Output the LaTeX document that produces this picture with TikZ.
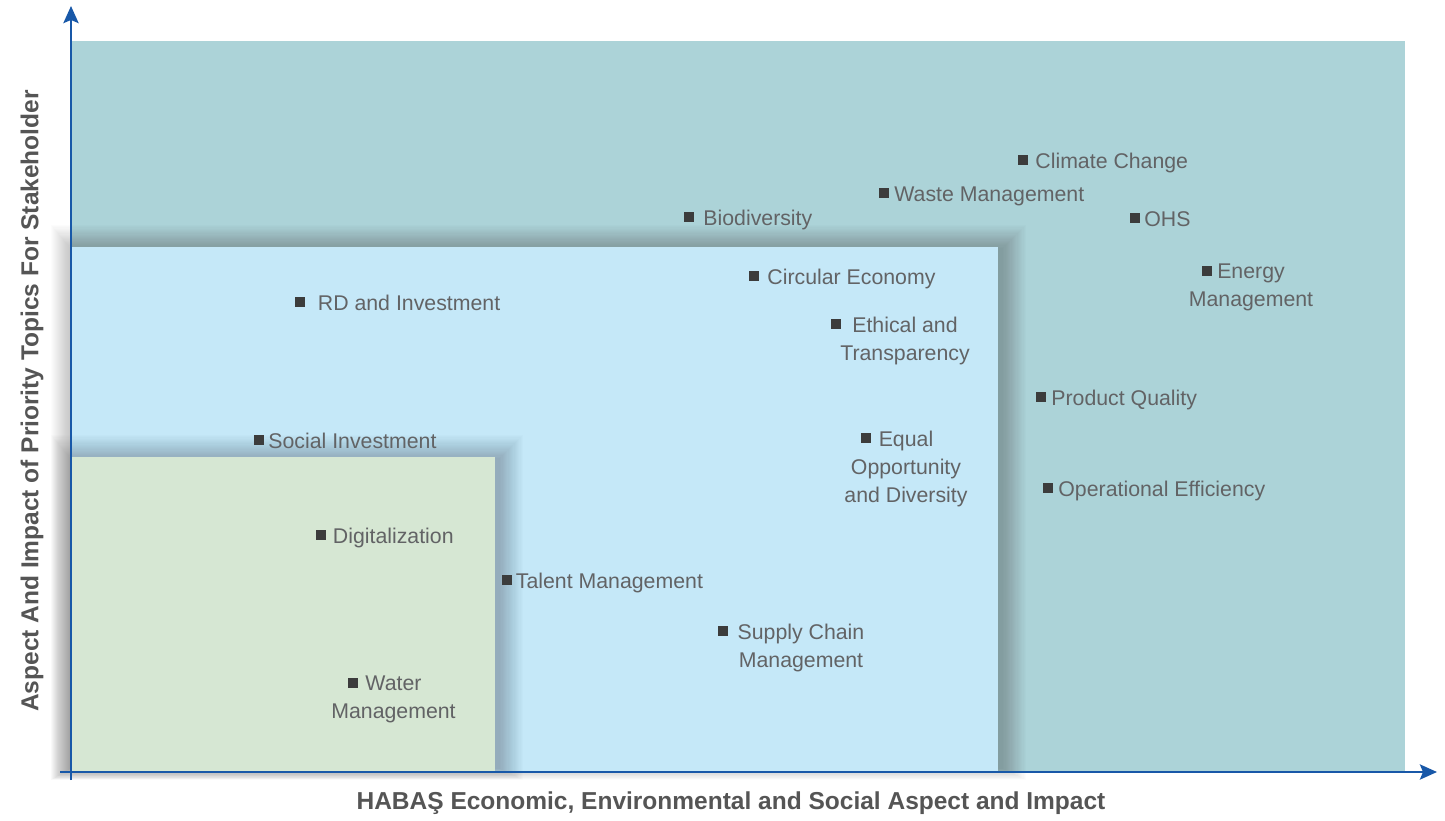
\documentclass[tikz,border=0pt]{standalone}
\usepackage{fontspec}
\setmainfont{Liberation Sans}
\usetikzlibrary{arrows.meta,positioning}

\definecolor{axisblue}{RGB}{24,88,168}
\definecolor{outerzone}{RGB}{172,211,216}
\definecolor{midzone}{RGB}{197,232,248}
\definecolor{innerzone}{RGB}{214,231,211}
\definecolor{dotgray}{RGB}{60,60,60}
\definecolor{labelgray}{RGB}{98,99,101}
\definecolor{titlegray}{RGB}{85,85,85}

\begin{document}
\begin{tikzpicture}[
    x=1pt, y=-1pt,
    axis/.style={line width=2.8pt, draw=axisblue, -{Stealth[length=17pt,width=15pt,inset=3pt]}},
    glow/.style={fill=black, opacity=0.012},
    dot/.style={rectangle, fill=dotgray, minimum size=10pt, inner sep=0pt},
    topic/.style={font=\fontsize{21.3}{28}\selectfont, text=labelgray, inner sep=0pt, anchor=base west, yshift=-8.5pt},
    multitopic/.style={font=\fontsize{21.3}{28}\selectfont, text=labelgray, inner sep=0pt, align=center, anchor=north},
    axistitle/.style={font=\fontsize{24.5}{28}\selectfont\bfseries, text=titlegray}
]
\useasboundingbox (0,0) rectangle (1445,821);

% materiality zones, each with a soft glow
\fill[outerzone] (71,41) rectangle (1405,772);
\foreach \g in {1,...,20}
  \fill[glow] (71-\g,249-1.2*\g) rectangle (1002+1.2*\g,768+0.6*\g);
\fill[midzone] (71,247) rectangle (998,772);
\foreach \g in {1,...,20}
  \fill[glow] (71-\g,459-1.2*\g) rectangle (499+1.2*\g,768+0.6*\g);
\fill[innerzone] (71,457) rectangle (495,772);

% axes
\coordinate (ybot) at (71,780);
\coordinate (ytip) at (71,6);
\coordinate (xleft) at (60,772);
\coordinate (xtip) at (1437,772);
\draw[axis] (ybot) -- (ytip);
\draw[axis] (xleft) -- (xtip);

\node[axistitle] (xtitle) at (731,803) {HABAŞ Economic, Environmental and Social Aspect and Impact};
\node[axistitle, rotate=90] (ytitle) at (32,401) {Aspect And Impact of Priority Topics For Stakeholder};

% topics, single line
\node[dot] (cc) at (1023,160) {};
\node[right=7pt of cc, topic] (cc-l) {Climate Change};
\node[dot] (wm) at (884,193) {};
\node[right=5pt of wm, topic] (wm-l) {Waste Management};
\node[dot] (bio) at (689,217) {};
\node[right=9pt of bio, topic] (bio-l) {Biodiversity};
\node[dot] (ohs) at (1135,218) {};
\node[right=4pt of ohs, topic] (ohs-l) {OHS};
\node[dot] (ce) at (754,276) {};
\node[right=8pt of ce, topic] (ce-l) {Circular Economy};
\node[dot] (rd) at (300,302) {};
\node[right=12.5pt of rd, topic] (rd-l) {RD and Investment};
\node[dot] (pq) at (1041,397) {};
\node[right=5pt of pq, topic] (pq-l) {Product Quality};
\node[dot] (si) at (259,440) {};
\node[right=4pt of si, topic] (si-l) {Social Investment};
\node[dot] (oe) at (1048,488) {};
\node[right=5pt of oe, topic] (oe-l) {Operational Efficiency};
\node[dot] (dig) at (321,535) {};
\node[right=6.5pt of dig, topic] (dig-l) {Digitalization};
\node[dot] (tm) at (507,580) {};
\node[right=3.5pt of tm, topic] (tm-l) {Talent Management};

% topics, several lines
\node[dot] (em) at (1207,271) {};
\node[multitopic] (em-l) at (1251,264) {Energy\\Management};
\node[dot] (et) at (836,324) {};
\node[multitopic] (et-l) at (905,316.5) {Ethical and\\Transparency};
\node[dot] (eq) at (866,438) {};
\node[multitopic] (eq-l) at (906,431) {Equal\\Opportunity\\and Diversity};
\node[dot] (sc) at (723,631) {};
\node[multitopic] (sc-l) at (801,624) {Supply Chain\\Management};
\node[dot] (wa) at (353,683) {};
\node[multitopic] (wa-l) at (393.5,675.5) {Water\\Management};
\end{tikzpicture}
\end{document}
